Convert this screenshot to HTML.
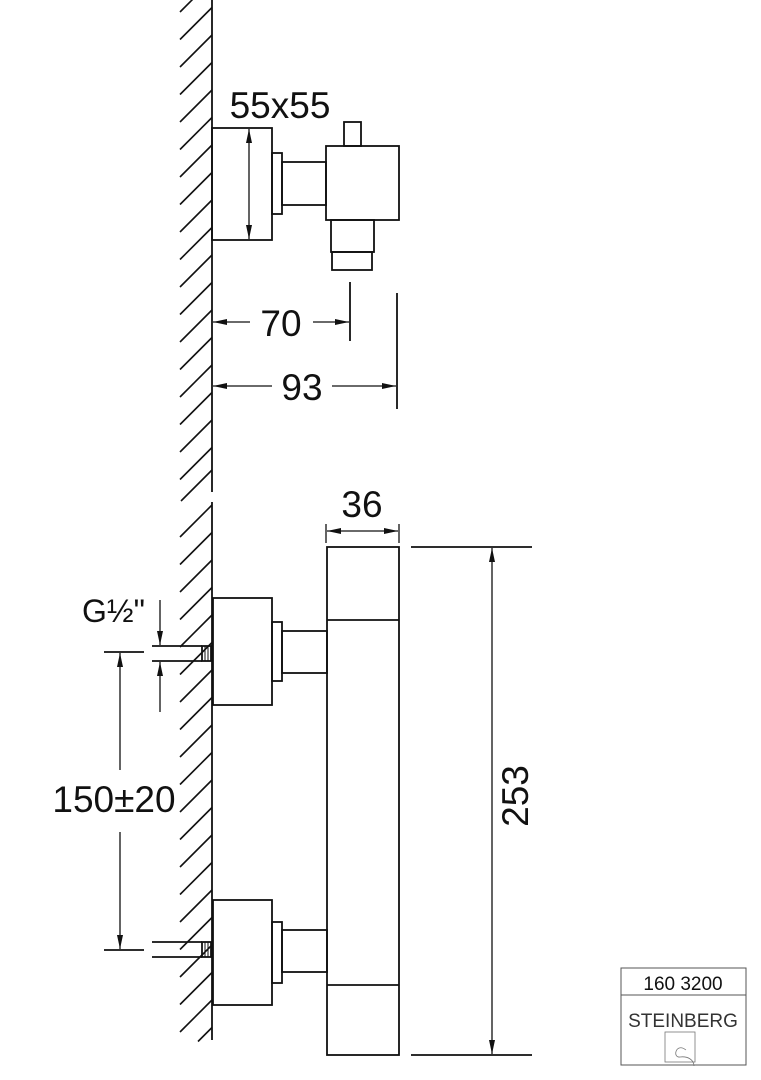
<!DOCTYPE html>
<html><head><meta charset="utf-8"><style>html,body{margin:0;padding:0;background:#fff}svg{display:block}</style></head>
<body>
<svg width="761" height="1080" viewBox="0 0 761 1080" xmlns="http://www.w3.org/2000/svg" font-family="Liberation Sans, sans-serif">
<defs>
<marker id="a" markerWidth="14" markerHeight="6" refX="14" refY="3" orient="auto-start-reverse" markerUnits="userSpaceOnUse"><path d="M0,0 L14,3 L0,6 Z" fill="#111"/></marker>
</defs>
<g stroke="#111" stroke-width="1.6">
<line x1="212" y1="-20" x2="180" y2="12"/><line x1="212" y1="7.5" x2="180" y2="39.5"/><line x1="212" y1="35" x2="180" y2="67"/><line x1="212" y1="62.5" x2="180" y2="94.5"/><line x1="212" y1="90" x2="180" y2="122"/><line x1="212" y1="117.5" x2="180" y2="149.5"/><line x1="212" y1="145" x2="180" y2="177"/><line x1="212" y1="172.5" x2="180" y2="204.5"/><line x1="212" y1="200" x2="180" y2="232"/><line x1="212" y1="227.5" x2="180" y2="259.5"/><line x1="212" y1="255" x2="180" y2="287"/><line x1="212" y1="282.5" x2="180" y2="314.5"/><line x1="212" y1="310" x2="180" y2="342"/><line x1="212" y1="337.5" x2="180" y2="369.5"/><line x1="212" y1="365" x2="180" y2="397"/><line x1="212" y1="392.5" x2="180" y2="424.5"/><line x1="212" y1="420" x2="180" y2="452"/><line x1="212" y1="447.5" x2="180" y2="479.5"/><line x1="212" y1="470" x2="181" y2="501"/>
<line x1="212" y1="505" x2="180" y2="537"/><line x1="212" y1="532.5" x2="180" y2="564.5"/><line x1="212" y1="560" x2="180" y2="592"/><line x1="212" y1="587.5" x2="180" y2="619.5"/><line x1="212" y1="615" x2="180" y2="647"/><line x1="212" y1="642.5" x2="180" y2="674.5"/><line x1="212" y1="670" x2="180" y2="702"/><line x1="212" y1="697.5" x2="180" y2="729.5"/><line x1="212" y1="725" x2="180" y2="757"/><line x1="212" y1="752.5" x2="180" y2="784.5"/><line x1="212" y1="780" x2="180" y2="812"/><line x1="212" y1="807.5" x2="180" y2="839.5"/><line x1="212" y1="835" x2="180" y2="867"/><line x1="212" y1="862.5" x2="180" y2="894.5"/><line x1="212" y1="890" x2="180" y2="922"/><line x1="212" y1="917.5" x2="180" y2="949.5"/><line x1="212" y1="945" x2="180" y2="977"/><line x1="212" y1="972.5" x2="180" y2="1004.5"/><line x1="212" y1="1000" x2="180" y2="1032"/><line x1="212" y1="1027.5" x2="198" y2="1041.5"/>
</g>
<g stroke="#111" stroke-width="1.8" fill="none">
<line x1="212" y1="0" x2="212" y2="492"/>
<line x1="212" y1="502" x2="212" y2="1040"/>
<rect x="212" y="128" width="60" height="112"/>
<rect x="272" y="153" width="10" height="61"/>
<rect x="282" y="162" width="44" height="43"/>
<rect x="326" y="146" width="73" height="74"/>
<rect x="344" y="122" width="17" height="24"/>
<rect x="331" y="220" width="43" height="32"/>
<rect x="332" y="252" width="40" height="18"/>
<line x1="249" y1="129" x2="249" y2="239" stroke-width="1.3" marker-start="url(#a)" marker-end="url(#a)"/>
<line x1="350" y1="282" x2="350" y2="341"/>
<line x1="397" y1="293" x2="397" y2="409"/>
<line x1="213" y1="322" x2="250" y2="322" stroke-width="1.3" marker-start="url(#a)"/>
<line x1="313" y1="322" x2="349" y2="322" stroke-width="1.3" marker-end="url(#a)"/>
<line x1="213" y1="386" x2="272" y2="386" stroke-width="1.3" marker-start="url(#a)"/>
<line x1="332" y1="386" x2="396" y2="386" stroke-width="1.3" marker-end="url(#a)"/>
<rect x="327" y="547" width="72" height="508"/>
<line x1="327" y1="620" x2="399" y2="620"/>
<line x1="327" y1="985" x2="399" y2="985"/>
<line x1="326" y1="524" x2="326" y2="543" stroke-width="1.3"/>
<line x1="399" y1="524" x2="399" y2="543" stroke-width="1.3"/>
<line x1="327" y1="531" x2="398" y2="531" stroke-width="1.3" marker-start="url(#a)" marker-end="url(#a)"/>
<line x1="411" y1="547" x2="532" y2="547"/>
<line x1="411" y1="1055" x2="532" y2="1055"/>
<line x1="492" y1="548" x2="492" y2="1054" stroke-width="1.3" marker-start="url(#a)" marker-end="url(#a)"/>
<rect x="213" y="598" width="59" height="107"/>
<rect x="272" y="622" width="10" height="59"/>
<rect x="282" y="631" width="45" height="42"/>
<rect x="213" y="900" width="59" height="105"/>
<rect x="272" y="922" width="10" height="61"/>
<rect x="282" y="930" width="45" height="42"/>
<line x1="152" y1="646" x2="202" y2="646"/><line x1="152" y1="661" x2="202" y2="661"/>
<rect x="202" y="646" width="9" height="15"/><line x1="205" y1="646" x2="205" y2="661" stroke-width="1"/><line x1="208" y1="646" x2="208" y2="661" stroke-width="1"/>
<line x1="152" y1="942" x2="202" y2="942"/><line x1="152" y1="957" x2="202" y2="957"/>
<rect x="202" y="942" width="9" height="15"/><line x1="205" y1="942" x2="205" y2="957" stroke-width="1"/><line x1="208" y1="942" x2="208" y2="957" stroke-width="1"/>
<line x1="160" y1="600" x2="160" y2="645" stroke-width="1.3" marker-end="url(#a)"/>
<line x1="160" y1="712" x2="160" y2="662" stroke-width="1.3" marker-end="url(#a)"/>
<line x1="104" y1="652" x2="144" y2="652"/>
<line x1="104" y1="950" x2="144" y2="950"/>
<line x1="120" y1="770" x2="120" y2="653" stroke-width="1.3" marker-end="url(#a)"/>
<line x1="120" y1="832" x2="120" y2="949" stroke-width="1.3" marker-end="url(#a)"/>
<rect x="621" y="968" width="125" height="97" stroke-width="1" stroke="#555"/>
<line x1="621" y1="995" x2="746" y2="995" stroke-width="1" stroke="#555"/>
<rect x="665" y="1032" width="30" height="30" stroke-width="0.8" stroke="#777"/>
<path d="M686,1050 C676,1042 672,1058 680,1057 C688,1056 694,1060 694,1066" stroke-width="0.8" stroke="#777"/>
</g>
<g fill="#111">
<text x="280" y="118" font-size="37" text-anchor="middle">55x55</text>
<text x="281" y="336" font-size="37" text-anchor="middle">70</text>
<text x="302" y="400" font-size="37" text-anchor="middle">93</text>
<text x="362" y="517" font-size="37" text-anchor="middle">36</text>
<text x="82" y="622" font-size="32">G½"</text>
<text x="114" y="812" font-size="37" text-anchor="middle">150±20</text>
<text transform="translate(528,796) rotate(-90)" font-size="37" text-anchor="middle">253</text>
<text x="683" y="990" font-size="19" text-anchor="middle">160 3200</text>
<text x="683" y="1027" font-size="19" text-anchor="middle" fill="#333">STEINBERG</text>
</g>
</svg>
</body></html>
